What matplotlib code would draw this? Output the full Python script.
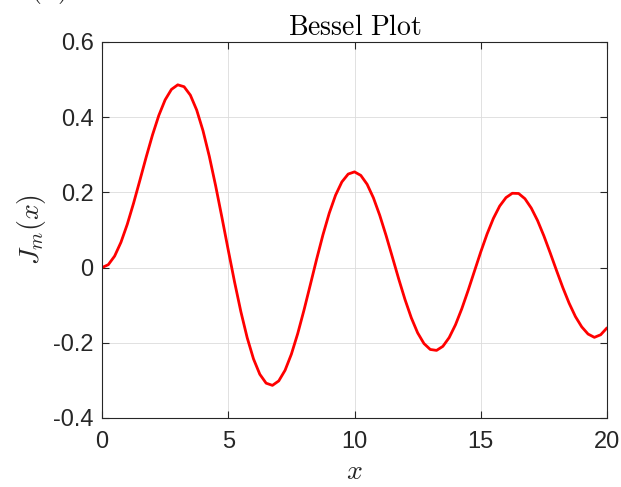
import matplotlib
matplotlib.use("Agg")
import matplotlib.pyplot as plt

x = [0.0, 0.25, 0.5, 0.75, 1.0, 1.25, 1.5, 1.75, 2.0, 2.25, 2.5, 2.75, 3.0, 3.25, 3.5, 3.75,
     4.0, 4.25, 4.5, 4.75, 5.0, 5.25, 5.5, 5.75, 6.0, 6.25, 6.5, 6.75, 7.0, 7.25, 7.5, 7.75,
     8.0, 8.25, 8.5, 8.75, 9.0, 9.25, 9.5, 9.75, 10.0, 10.25, 10.5, 10.75, 11.0, 11.25,
     11.5, 11.75, 12.0, 12.25, 12.5, 12.75, 13.0, 13.25, 13.5, 13.75, 14.0, 14.25, 14.5,
     14.75, 15.0, 15.25, 15.5, 15.75, 16.0, 16.25, 16.5, 16.75, 17.0, 17.25, 17.5, 17.75,
     18.0, 18.25, 18.5, 18.75, 19.0, 19.25, 19.5, 19.75, 20.0]
jm = [0.0, 0.0078, 0.0306, 0.0672, 0.1150, 0.1712, 0.2321, 0.2940, 0.3528, 0.4047,
      0.4461, 0.4739, 0.4861, 0.4811, 0.4586, 0.4191, 0.3641, 0.2959, 0.2178, 0.1333,
      0.0466, -0.0383, -0.1173, -0.1865, -0.2429, -0.2837, -0.3074, -0.3132, -0.3014,
      -0.2731, -0.2303, -0.1758, -0.1130, -0.0457, 0.0223, 0.0870, 0.1448, 0.1926,
      0.2279, 0.2488, 0.2546, 0.2452, 0.2216, 0.1854, 0.1390, 0.0855, 0.0280, -0.0300,
      -0.0849, -0.1336, -0.1734, -0.2019, -0.2177, -0.2202, -0.2094, -0.1861, -0.1520,
      -0.1093, -0.0608, -0.0095, 0.0416, 0.0893, 0.1308, 0.1637, 0.1862, 0.1977, 0.1971,
      0.1832, 0.1584, 0.1251, 0.0844, 0.0392, -0.0075, -0.0531, -0.0947, -0.1303,
      -0.1577, -0.1767, -0.1855, -0.1786, -0.1603]
xticks = [0, 5, 10, 15, 20]
yticks = [-0.4, -0.2, 0, 0.2, 0.4, 0.6]
yticklabels = ["-0.4", "-0.2", "0", "0.2", "0.4", "0.6"]

plt.rcParams['mathtext.fontset'] = 'cm'
plt.rcParams['font.family'] = ['Liberation Sans', 'DejaVu Sans']

fig = plt.figure(figsize=(6.21, 4.87), dpi=100)
ax = fig.add_axes([102/621, 1-418/487, (607-102)/621, (418-42)/487])
ax.plot(x, jm, color='#ff0000', lw=2.0, solid_joinstyle='round', solid_capstyle='round')
ax.set_xlim(0, 20)
ax.set_ylim(-0.4, 0.6)
ax.set_xticks(xticks)
ax.set_yticks(yticks)
ax.set_yticklabels(yticklabels)
ax.tick_params(direction='in', top=True, right=True, labelsize=17, length=5,
               width=0.8, color='#262626', labelcolor='#262626')
ax.tick_params(axis='y', pad=6)
ax.tick_params(axis='x', pad=9)
ax.grid(True, color='#dcdcdc', lw=0.6)
ax.set_axisbelow(True)
for s in ax.spines.values():
    s.set_color('#262626')
    s.set_linewidth(0.8)
ax.set_title(r'$\mathrm{Bessel\ Plot}$', fontsize=20, pad=5)
ax.set_xlabel(r'$x$', fontsize=20, labelpad=5, color='#262626')
ax.set_ylabel(r'$J_m(x)$', fontsize=20, labelpad=4, color='#262626')
fig.text(0.024, 1 - 6/487, r'$J(x)$', fontsize=20, va='bottom', ha='left', color='#262626')

fig.savefig('out.png', dpi=100)
